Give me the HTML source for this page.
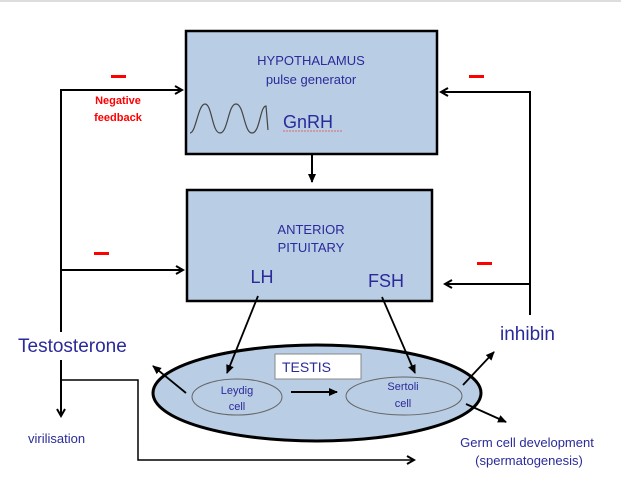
<!DOCTYPE html>
<html><head><style>
html,body{margin:0;padding:0;background:#fff;}
svg text{font-family:"Liberation Sans",Arial,sans-serif;}
</style></head><body>
<svg width="621" height="475" viewBox="0 0 621 475" xmlns="http://www.w3.org/2000/svg">
<defs>
<marker id="a" markerWidth="10" markerHeight="10" refX="8" refY="5" orient="auto" markerUnits="userSpaceOnUse">
<path d="M1,1 L8,5 L1,9" fill="none" stroke="#000" stroke-width="2"/>
</marker>
<marker id="b" markerWidth="10" markerHeight="10" refX="8" refY="5" orient="auto" markerUnits="userSpaceOnUse">
<path d="M0,1 L9,5 L0,9 Z" fill="#000"/>
</marker>
</defs>
<rect x="0" y="0" width="621" height="2" fill="#ddd"/>
<!-- boxes -->
<rect x="186" y="31" width="251" height="123" fill="#b9cde4" stroke="#000" stroke-width="2.5"/>
<rect x="187" y="190" width="245" height="111" fill="#b9cde4" stroke="#000" stroke-width="2.5"/>
<text x="311" y="65" font-size="13" fill="#2a2a9a" text-anchor="middle">HYPOTHALAMUS</text>
<text x="311" y="84" font-size="13" fill="#2a2a9a" text-anchor="middle">pulse generator</text>
<text x="283" y="128" font-size="18" fill="#2a2a9a">GnRH</text>
<path d="M283,131 L342,131" stroke="#d66" stroke-width="1" stroke-dasharray="2,1"/>
<path d="M190,133 C196,133 198,104 205,104 C212,104 212,133 220,133 C228,133 228,104 236,104 C244,104 244,133 252,133 C260,133 260,106 266,106 L268,130" fill="none" stroke="#444" stroke-width="1.2"/>
<text x="311" y="234" font-size="13" fill="#2a2a9a" text-anchor="middle">ANTERIOR</text>
<text x="311" y="252" font-size="13" fill="#2a2a9a" text-anchor="middle">PITUITARY</text>
<text x="262" y="283" font-size="18" fill="#2a2a9a" text-anchor="middle">LH</text>
<text x="386" y="287" font-size="18" fill="#2a2a9a" text-anchor="middle">FSH</text>
<!-- hyp -> pit -->
<line x1="312" y1="154" x2="312" y2="182" stroke="#000" stroke-width="2" marker-end="url(#b)"/>
<!-- left feedback -->
<polyline points="61,332 61,90 182,90" fill="none" stroke="#000" stroke-width="2" marker-end="url(#a)"/>
<line x1="61" y1="270" x2="183" y2="270" stroke="#000" stroke-width="2" marker-end="url(#a)"/>
<rect x="111" y="75" width="15" height="3" fill="#f00"/>
<rect x="94" y="252" width="15" height="3" fill="#f00"/>
<text x="118" y="104" font-size="11" font-weight="bold" fill="#f00" text-anchor="middle">Negative</text>
<text x="118" y="121" font-size="11" font-weight="bold" fill="#f00" text-anchor="middle">feedback</text>
<!-- right feedback -->
<polyline points="530,315 530,92 441,92" fill="none" stroke="#000" stroke-width="2" marker-end="url(#a)"/>
<line x1="530" y1="284" x2="445" y2="284" stroke="#000" stroke-width="2" marker-end="url(#a)"/>
<rect x="469" y="75" width="15" height="3" fill="#f00"/>
<rect x="477" y="262" width="15" height="3" fill="#f00"/>
<!-- labels -->
<text x="18" y="352" font-size="19" fill="#2a2a9a">Testosterone</text>
<text x="500" y="340" font-size="19" fill="#2a2a9a">inhibin</text>
<!-- testis -->
<ellipse cx="317" cy="393" rx="164" ry="48" fill="#b9cde4" stroke="#000" stroke-width="3"/>
<rect x="275" y="354" width="86" height="25" fill="#fff" stroke="#888" stroke-width="1"/>
<text x="282" y="372" font-size="14" fill="#2a2a9a">TESTIS</text>
<ellipse cx="237" cy="397" rx="45" ry="18" fill="#b9cde4" stroke="#666" stroke-width="1"/>
<ellipse cx="404" cy="396" rx="58" ry="19" fill="#b9cde4" stroke="#666" stroke-width="1"/>
<text x="237" y="394" font-size="11" fill="#2a2a9a" text-anchor="middle">Leydig</text>
<text x="237" y="410" font-size="11" fill="#2a2a9a" text-anchor="middle">cell</text>
<text x="403" y="390" font-size="11" fill="#2a2a9a" text-anchor="middle">Sertoli</text>
<text x="403" y="407" font-size="11" fill="#2a2a9a" text-anchor="middle">cell</text>
<line x1="291" y1="392" x2="337" y2="392" stroke="#000" stroke-width="2" marker-end="url(#b)"/>
<line x1="258" y1="296" x2="227" y2="373" stroke="#000" stroke-width="1.8" marker-end="url(#b)"/>
<line x1="382" y1="297" x2="415" y2="373" stroke="#000" stroke-width="1.8" marker-end="url(#b)"/>
<line x1="186" y1="393" x2="153" y2="366" stroke="#000" stroke-width="1.8" marker-end="url(#b)"/>
<line x1="463" y1="385" x2="494" y2="352" stroke="#000" stroke-width="1.8" marker-end="url(#b)"/>
<line x1="466" y1="404" x2="506" y2="422" stroke="#000" stroke-width="1.8" marker-end="url(#b)"/>
<!-- testosterone down -->
<line x1="61" y1="360" x2="61" y2="416" stroke="#000" stroke-width="2" marker-end="url(#a)"/>
<polyline points="61,380 138,380 138,460 414,460" fill="none" stroke="#000" stroke-width="1.5" marker-end="url(#a)"/>
<text x="28" y="443" font-size="13" fill="#2a2a9a">virilisation</text>
<text x="527" y="447" font-size="13" fill="#2a2a9a" text-anchor="middle">Germ cell development</text>
<text x="529" y="465" font-size="13" fill="#2a2a9a" text-anchor="middle">(spermatogenesis)</text>
</svg>
</body></html>
